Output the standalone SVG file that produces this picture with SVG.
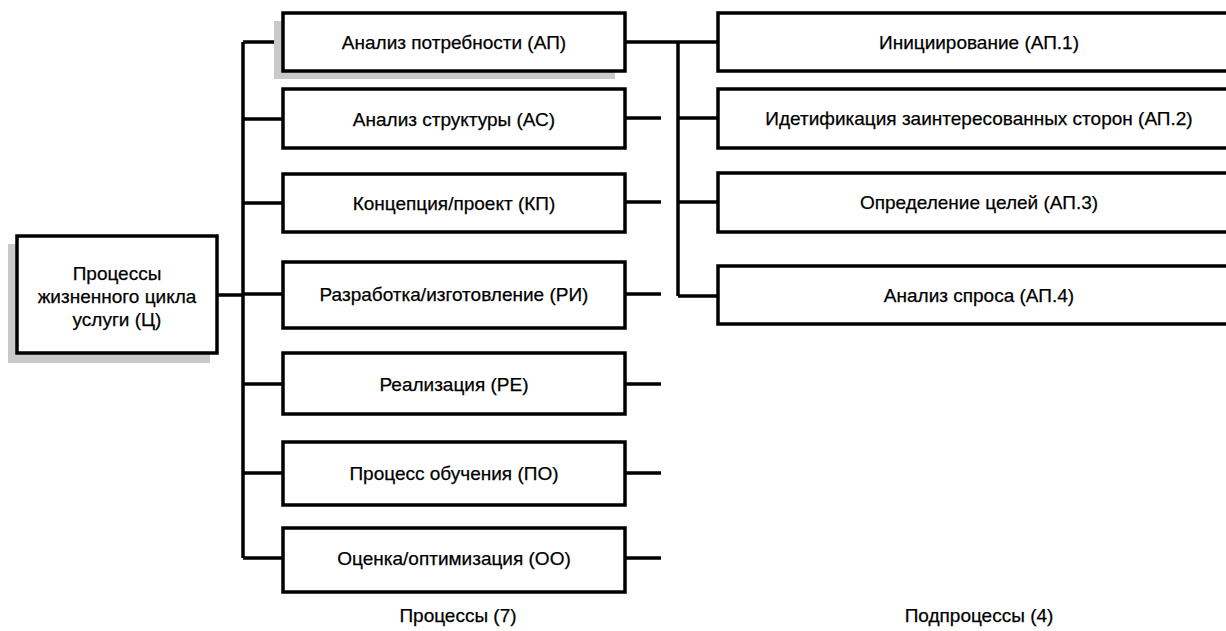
<svg xmlns="http://www.w3.org/2000/svg" width="1226" height="631" viewBox="0 0 1226 631">
<style>
.box{fill:#fff;stroke:#000;stroke-width:3.5}
.sh{fill:#c9c9c9}
.ln{fill:none;stroke:#000;stroke-width:3.5}
text{font-family:"Liberation Sans",Arial,sans-serif;font-size:19px;fill:#000;stroke:#000;stroke-width:0.25;text-anchor:middle}
</style>
<rect width="1226" height="631" fill="#fff"/>
<g id="connectors">
<path class="ln" d="M217,295 H243 M243,42 V558 M243,42 H283 M243,119 H283 M243,203 H283 M243,294 H283 M243,384 H283 M243,473 H283 M243,558 H283"/>
<path class="ln" d="M625,42 H718 M678,42 V296 M678,118 H718 M678,202 H718 M678,296 H718"/>
<path class="ln" d="M625,118 H661 M625,202 H661 M625,294 H661 M625,384 H661 M625,473 H661 M625,558 H661"/>
</g>
<g id="root">
<rect class="sh" x="8" y="244" width="202" height="119"/>
<rect class="box" x="17" y="236" width="200" height="117"/>
<text x="117" y="280">Процессы</text>
<text x="117" y="303">жизненного цикла</text>
<text x="117" y="326">услуги (Ц)</text>
</g>
<g id="p1">
<rect class="sh" x="274" y="21" width="341" height="58"/>
<rect class="box" x="283" y="13" width="342" height="58"/>
<text x="454" y="49">Анализ потребности (АП)</text>
</g>
<g id="p2">
<rect class="box" x="283" y="89" width="342" height="59"/>
<text x="454" y="126">Анализ структуры (АС)</text>
</g>
<g id="p3">
<rect class="box" x="283" y="174" width="342" height="58"/>
<text x="454" y="210">Концепция/проект (КП)</text>
</g>
<g id="p4">
<rect class="box" x="283" y="262" width="342" height="66"/>
<text x="454" y="301">Разработка/изготовление (РИ)</text>
</g>
<g id="p5">
<rect class="box" x="283" y="353" width="342" height="61"/>
<text x="454" y="391">Реализация (РЕ)</text>
</g>
<g id="p6">
<rect class="box" x="283" y="442" width="342" height="63"/>
<text x="454" y="480">Процесс обучения (ПО)</text>
</g>
<g id="p7">
<rect class="box" x="283" y="528" width="342" height="64"/>
<text x="454" y="565">Оценка/оптимизация (ОО)</text>
</g>
<g id="s1">
<rect class="box" x="718" y="13" width="530" height="58"/>
<text x="979" y="49">Инициирование (АП.1)</text>
</g>
<g id="s2">
<rect class="box" x="718" y="89" width="530" height="59"/>
<text x="979" y="125">Идетификация заинтересованных сторон (АП.2)</text>
</g>
<g id="s3">
<rect class="box" x="718" y="173" width="530" height="59"/>
<text x="979" y="209">Определение целей (АП.3)</text>
</g>
<g id="s4">
<rect class="box" x="718" y="266" width="530" height="58"/>
<text x="979" y="302">Анализ спроса (АП.4)</text>
</g>
<g id="labels">
<text x="458" y="622">Процессы (7)</text>
<text x="979" y="622">Подпроцессы (4)</text>
</g>
</svg>
